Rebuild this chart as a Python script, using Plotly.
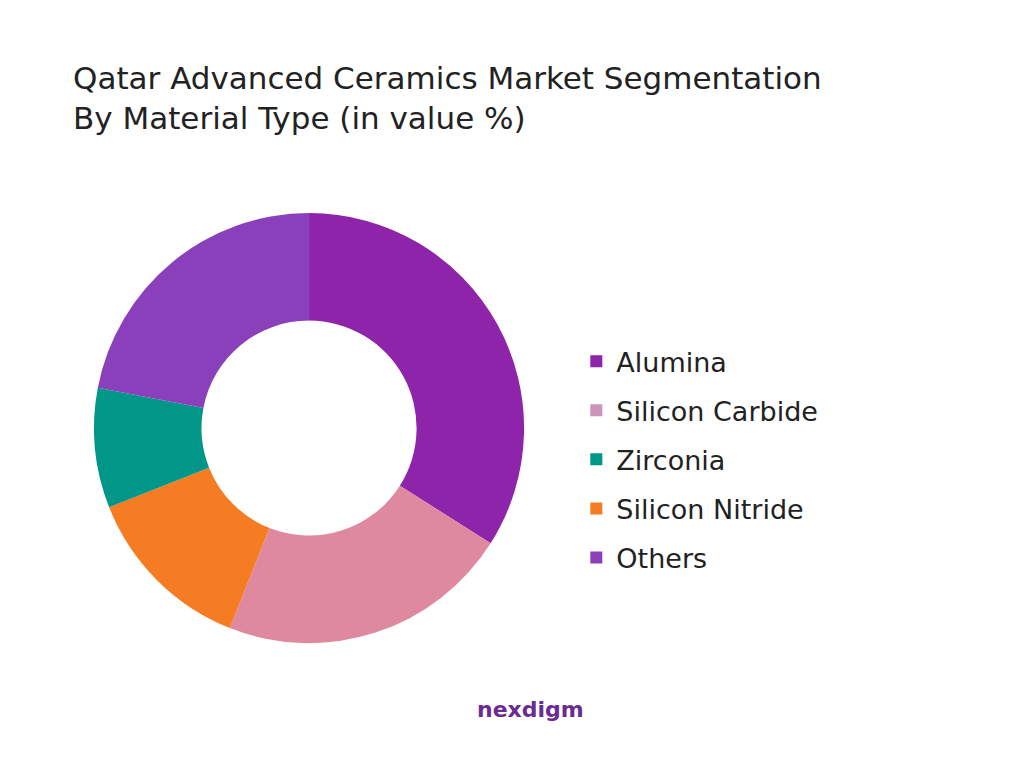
import plotly.graph_objects as go

# drawing order (clockwise from 12 o'clock)
labels = ["Alumina", "Silicon Carbide", "Silicon Nitride", "Zirconia", "Others"]
values = [34, 22, 13, 9, 22]
colors = ["#8E24AA", "#DE89A0", "#F57C22", "#009688", "#8A3FBB"]

legend_labels = ["Alumina", "Silicon Carbide", "Zirconia", "Silicon Nitride", "Others"]
legend_colors = ["#8E24AA", "#CE93B8", "#009688", "#F57C22", "#8A3FBB"]

fig = go.Figure()
fig.add_trace(go.Pie(
    labels=labels, values=values, hole=0.5, sort=False, direction="clockwise",
    rotation=0, marker=dict(colors=colors), textinfo="none", hoverinfo="label+percent",
    showlegend=False, domain=dict(x=[0.084, 0.504], y=[0.173, 0.733]),
))
for i, (name, c) in enumerate(zip(legend_labels, legend_colors)):
    fig.add_trace(go.Scatter(x=[None], y=[None], mode="markers", name=name,
                             legendgroup=f"g{i}",
                             marker=dict(symbol="square", size=22, color=c)))

fig.update_layout(
    width=1024, height=768, paper_bgcolor="white", plot_bgcolor="white",
    margin=dict(l=0, r=0, t=0, b=0),
    font=dict(family="DejaVu Sans, sans-serif", color="#222"),
    xaxis=dict(visible=False), yaxis=dict(visible=False),
    legend=dict(x=0.555, y=0.412, xanchor="left", yanchor="middle",
                font=dict(size=27, color="#222"), itemsizing="constant",
                tracegroupgap=11, bgcolor="rgba(0,0,0,0)"),
    annotations=[
        dict(text="Qatar Advanced Ceramics Market Segmentation<br>By Material Type (in value %)",
             x=63 / 1024, y=1 - 50 / 768, xref="paper", yref="paper", xanchor="left",
             yanchor="top", align="left", showarrow=False,
             font=dict(size=31, color="#222")),
        dict(text="<b>nexdigm</b>", x=0.51, y=1 - 716 / 768, xref="paper", yref="paper",
             showarrow=False, font=dict(size=22, color="#6A2C91")),
    ],
)
fig.write_html("out.html")
